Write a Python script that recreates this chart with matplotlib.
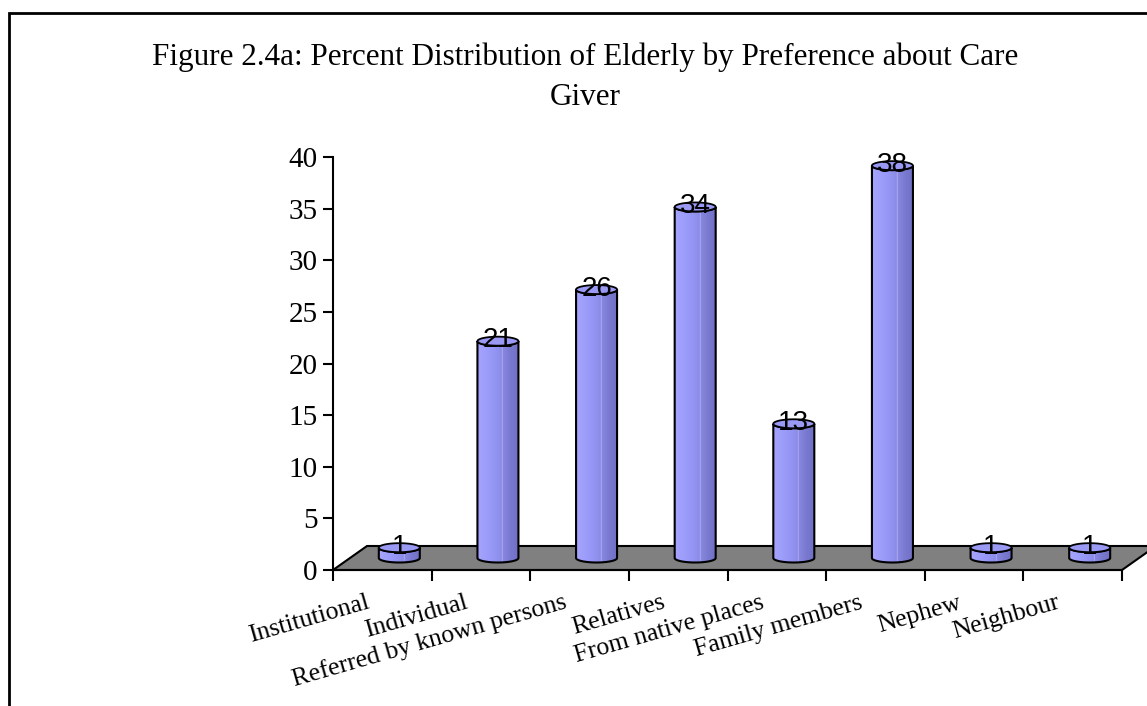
import numpy as np
import matplotlib
matplotlib.use("Agg")
import matplotlib.pyplot as plt
from matplotlib.patches import Polygon, Rectangle

categories = ["Institutional", "Individual", "Referred by known persons", "Relatives",
              "From native places", "Family members", "Nephew", "Neighbour"]
values = [1, 21, 26, 34, 13, 38, 1, 1]
yticks = [0, 5, 10, 15, 20, 25, 30, 35, 40]
title_lines = ["Figure 2.4a: Percent Distribution of Elderly by Preference about Care", "Giver"]

W, H = 1147, 706
fig = plt.figure(figsize=(W / 100, H / 100), dpi=100)

# frame
fig.patches.append(Rectangle((9 / W, -0.1), 1.2, 1 - 13 / H + 0.1, transform=fig.transFigure,
                             fill=False, edgecolor="black", lw=2.0))

for line, yb in zip(title_lines, [65, 105]):
    fig.text(585 / W, 1 - yb / H, line, ha="center", va="baseline", fontsize=22.4,
             family="Liberation Serif")

x0, x1, y0, y1 = 333, 1122, 570, 157
ax = fig.add_axes([x0 / W, 1 - y0 / H, (x1 - x0) / W, (y0 - y1) / H])
n = len(categories)
ax.set_xlim(0, n)
ax.set_ylim(0, 40)

pxx = (x1 - x0) / n          # px per category
pxy = (y0 - y1) / 40.0       # px per unit
ddx = 34 / pxx
ddy = 24 / pxy

for s in ["top", "right"]:
    ax.spines[s].set_visible(False)
ax.spines["left"].set_linewidth(1.5)
ax.spines["bottom"].set_linewidth(1.5)
ax.set_yticks(yticks)
ax.set_xticks(np.arange(n + 1))
ax.set_xticklabels([])
ax.tick_params(axis="y", direction="out", length=7, width=1.5, labelsize=21, pad=4)
ax.tick_params(axis="x", direction="out", length=8, width=1.5)
for lab in ax.get_yticklabels():
    lab.set_family("Liberation Serif")

# floor
floor = Polygon([(0, 0), (n, 0), (n + ddx, ddy), (ddx, ddy)], closed=True,
                facecolor="#808080", edgecolor="black", lw=1.5, clip_on=False, zorder=1)
ax.add_patch(floor)

# gradient
cols = np.array([[165, 165, 255], [152, 152, 248], [142, 142, 235], [122, 122, 208], [112, 112, 198]]) / 255.0
pos = np.array([0, 0.35, 0.55, 0.8, 1.0])
xs = np.linspace(0, 1, 64)
grad = np.stack([np.interp(xs, pos, cols[:, k]) for k in range(3)], axis=-1)
grad[int(0.62 * 64)] = np.array([185, 185, 245]) / 255.0
grad_img = grad[np.newaxis, :, :]

a = 20.5 / pxx          # half width (data)
b = 4.5 / pxy           # ellipse half height (data)
t_front = np.linspace(np.pi, 2 * np.pi, 40)
t_full = np.linspace(0, 2 * np.pi, 80)

for i, v in enumerate(values):
    cx = i + 0.5 + ddx / 2
    bot = ddy / 2
    top = v + ddy / 2
    left = [(cx - a, bot), (cx - a, top)]
    toparc = [(cx + a * np.cos(t), top + b * np.sin(t)) for t in t_front]
    right = [(cx + a, bot)]
    botarc = [(cx + a * np.cos(t), bot + b * np.sin(t)) for t in t_front[::-1]]
    verts = left + toparc + right + botarc + [(cx - a, bot)]
    body = Polygon(verts, closed=True, facecolor="none", edgecolor="black", lw=1.5, zorder=3)
    ax.add_patch(body)
    im = ax.imshow(grad_img, extent=[cx - a, cx + a, bot - b, top + b], aspect="auto",
                   zorder=2, interpolation="bilinear")
    im.set_clip_path(body)
    topel = Polygon([(cx + a * np.cos(t), top + b * np.sin(t)) for t in t_full], closed=True,
                    facecolor="#9a9af5", edgecolor="black", lw=1.3, zorder=4)
    ax.add_patch(topel)
    ax.text(cx, top + 0.1, f"{v}", ha="center", va="center", fontsize=20,
            family="Liberation Sans", zorder=5)

ax.set_xlim(0, n)
ax.set_ylim(0, 40)
ax.set_aspect("auto")

# category labels
for i, c in enumerate(categories):
    ax.text(i + 0.38, -3.68, c, rotation=16, rotation_mode="anchor", ha="right", va="baseline",
            fontsize=18.5, family="Liberation Serif")

fig.savefig("out.png", dpi=100)
